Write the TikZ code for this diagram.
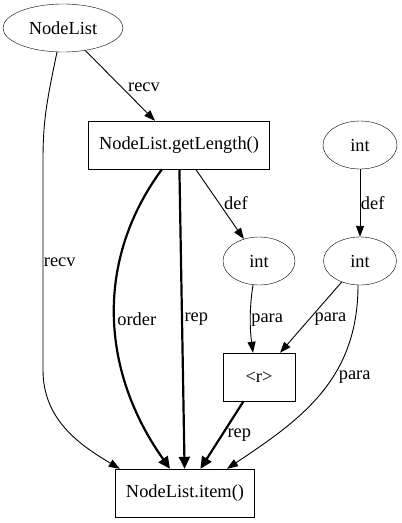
\documentclass[tikz,border=0pt]{standalone}
\usepackage{fontspec}
\setmainfont{Liberation Serif}
\newfontfamily\gvfont{Liberation Serif}
\usetikzlibrary{shapes.geometric,arrows.meta}
\tikzset{
  oval/.style={draw, ellipse, inner sep=0pt, minimum height=48pt},
  call/.style={draw, rectangle, inner sep=0pt, minimum height=48pt},
  edge/.style={-{Triangle[length=11pt,width=8pt]}, line width=0.9pt},
  bold/.style={-{Triangle[length=12pt,width=11pt]}, line width=2.2pt},
  lbl/.style={inner sep=0.5pt}
}
\begin{document}
\begin{tikzpicture}[x=1pt, y=-1pt, every node/.style={font=\gvfont\fontsize{18.4}{22}\selectfont}]
  \useasboundingbox (0,0) rectangle (402,523);
  \node[oval, minimum width=120pt] (nl) at (63,28) {NodeList};
  \node[call, minimum width=181pt] (gl) at (179,145) {NodeList.getLength()};
  \node[oval, minimum width=74pt] (i0) at (360,145) {int};
  \node[oval, minimum width=72pt] (i1) at (259,261) {int};
  \node[oval, minimum width=73pt] (i2) at (360,261) {int};
  \node[call, minimum width=72pt] (r) at (259,377) {<r>};
  \node[call, minimum width=139pt] (it) at (185,493) {NodeList.item()};
  \draw[edge] (nl) -- node[lbl,right=5pt,pos=0.53] (l1) {recv} (gl);
  \draw[edge] (nl.256) .. controls (47,100) and (43,120) .. (43,160)
    -- node[lbl,right=0pt,pos=0.486] (l2) {recv} (43,370)
    .. controls (43,420) and (80,445) .. ([xshift=4.5pt]it.north west);
  \draw[bold] ([xshift=-17pt]gl.south) .. controls (95,260) and (100,370) ..
    node[lbl,right=1pt,pos=0.51] (l3) {order} ([xshift=-15pt]it.north);
  \draw[bold] (gl) -- node[lbl,right=1pt] (l4) {rep} (it);
  \draw[edge] (gl) -- node[lbl,right=4pt,pos=0.49] (l5) {def} (i1);
  \draw[edge] (i0) -- node[lbl,right=0pt] (l6) {def} (i2);
  \draw[edge] ([xshift=-6pt]i1.south) .. controls (249,310) and (250,330) ..
    node[lbl,right=0pt] (l7) {para} ([xshift=-6pt]r.north);
  \draw[edge] (i2) -- node[lbl,right=4pt,pos=0.52] (l8) {para} (r);
  \draw[edge] ([xshift=-2pt]i2.south) .. controls (358,380) and (300,420) ..
    node[lbl,right=5pt,pos=0.4] (l9) {para} ([xshift=42pt]it.north);
  \draw[bold] (r) -- node[lbl,right=4pt] (l10) {rep} (it);
\end{tikzpicture}
\end{document}
